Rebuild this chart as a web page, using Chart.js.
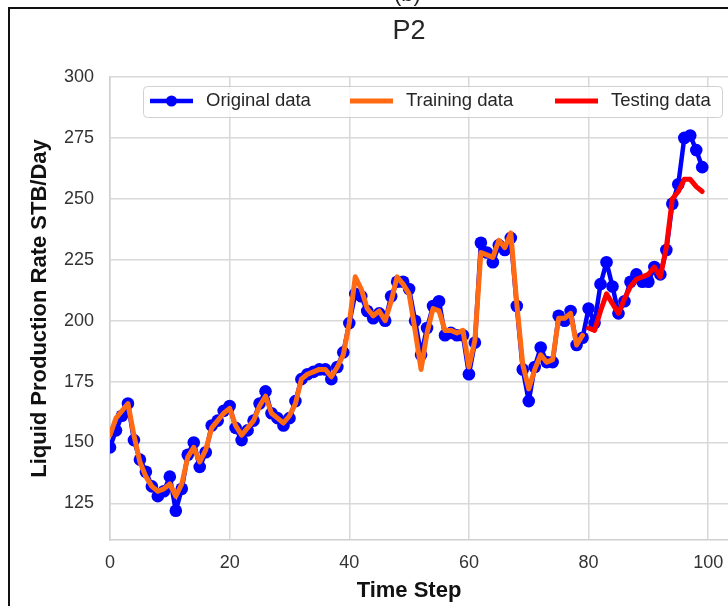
<!DOCTYPE html>
<html>
<head>
<meta charset="utf-8">
<script src="https://cdn.jsdelivr.net/npm/chart.js@4.4.1/dist/chart.umd.min.js"></script>
<style>
  html, body { margin: 0; padding: 0; background: #fff; overflow: hidden; }
  #wrap { position: relative; width: 728px; height: 606px; overflow: hidden; background: #fff; }
  #wrap canvas { position: absolute; left: 0; top: 0; }
  #frame { position: absolute; left: 8px; top: 7px; width: 800px; height: 700px;
           border-left: 2px solid #111; border-top: 2px solid #111; pointer-events: none; }
  #tag { position: absolute; left: 394px; top: -19px; font: 22px "Liberation Sans", Arial, sans-serif; color: #222; }
</style>
</head>
<body>
<div id="wrap">
  <canvas id="myChart" width="818" height="606"></canvas>
  <div id="frame"></div>
  <div id="tag">(b)</div>
</div>
<script>
// liquid rate per time step (STB/Day)
var original = [
  148, 155, 161, 166, 151, 143, 138, 132, 128, 130,
  136, 122, 131, 145, 150, 140, 146, 157, 159, 163,
  165, 156, 151, 155, 159, 166, 171, 162, 160, 157,
  160, 167, 176, 178, 179, 180, 180, 176, 181, 187,
  199, 211, 210, 204, 201, 203, 200, 210, 216, 216,
  213, 200, 186, 197, 206, 208, 194, 195, 194, 194,
  178, 191, 232, 228, 224, 231, 229, 234, 206, 180,
  167, 181, 189, 183, 183, 202, 200, 204, 190, 193,
  205, 199, 215, 224, 214, 203, 208, 216, 219, 216,
  216, 222, 219, 229, 248, 256, 275, 276, 270, 263
];
var training = [
  153, 160, 163, 166, 153, 142, 136, 132, 130, 131,
  133, 128, 133, 144, 148, 142, 147, 156, 159, 162,
  164, 157, 153, 156, 159, 165, 169, 162, 160, 158,
  161, 166, 176, 178, 179, 180, 180, 177, 181, 186,
  199, 218, 213, 205, 202, 204, 200, 208, 218, 215,
  211, 196, 180, 195, 205, 204, 196, 196, 195, 196,
  181, 192, 228, 227, 226, 233, 230, 236, 207, 182,
  172, 180, 186, 183, 184, 201, 201, 203, 190, 194
];
var testStart = 80;
var testing = [
  197, 196, 204, 211, 207, 203, 209, 214, 217, 218,
  219, 222, 218, 230, 250, 253, 258, 258, 255, 253
];
var xTicks = [0, 20, 40, 60, 80, 100];
var yTicks = [125, 150, 175, 200, 225, 250, 275, 300];

function toPoints(values, start) {
  return values.map(function (v, i) { return { x: start + i, y: v }; });
}

var fontFamily = "'Liberation Sans', Arial, sans-serif";
Chart.defaults.font.family = fontFamily;

// matplotlib-style legend box drawn inside the plot, over the lines
var legendBox = {
  id: 'legendBox',
  afterDraw: function (chart) {
    var ctx = chart.ctx;
    var itemX = [150, 350, 555];
    var y = 101;
    ctx.save();
    ctx.beginPath();
    ctx.roundRect(143.5, 86.5, 579, 31, 4);
    ctx.fillStyle = 'rgba(255,255,255,0.8)';
    ctx.fill();
    ctx.strokeStyle = '#d0d0d0';
    ctx.lineWidth = 1;
    ctx.stroke();
    chart.data.datasets.forEach(function (ds, i) {
      var x = itemX[i];
      ctx.beginPath();
      ctx.moveTo(x, y);
      ctx.lineTo(x + 43, y);
      ctx.strokeStyle = ds.borderColor;
      ctx.lineWidth = ds.borderWidth;
      ctx.lineCap = 'butt';
      ctx.stroke();
      if (ds.pointRadius > 0) {
        ctx.beginPath();
        ctx.arc(x + 21.5, y, 5.5, 0, Math.PI * 2);
        ctx.fillStyle = ds.borderColor;
        ctx.fill();
      }
      ctx.fillStyle = '#262626';
      ctx.font = '18.5px ' + fontFamily;
      ctx.textBaseline = 'middle';
      ctx.textAlign = 'left';
      ctx.fillText(ds.label, x + 56, y);
    });
    ctx.restore();
  }
};

var ctx = document.getElementById('myChart');
var myChart = new Chart(ctx, {
  type: 'line',
  data: {
    datasets: [{
      label: 'Original data',
      data: toPoints(original, 0),
      borderColor: '#0000ff',
      backgroundColor: '#0000ff',
      borderWidth: 4.5,
      pointRadius: 6.3,
      pointBorderWidth: 0,
      order: 3
    }, {
      label: 'Training data',
      data: toPoints(training, 0),
      borderColor: '#ff6a13',
      backgroundColor: '#ff6a13',
      borderWidth: 5,
      pointRadius: 0,
      order: 2
    }, {
      label: 'Testing data',
      data: toPoints(testing, testStart),
      borderColor: '#ff0000',
      backgroundColor: '#ff0000',
      borderWidth: 5,
      pointRadius: 0,
      order: 1
    }]
  },
  options: {
    responsive: false,
    animation: false,
    layout: { padding: 0 },
    elements: { line: { tension: 0, borderJoinStyle: 'round', borderCapStyle: 'round' } },
    scales: {
      x: {
        type: 'linear',
        min: 0,
        max: 117.3,
        afterBuildTicks: function (axis) {
          axis.ticks = xTicks.map(function (v) { return { value: v }; });
        },
        afterFit: function (axis) { axis.height = 37.6; },
        grid: { color: '#d8d8d8', lineWidth: 1.5, drawTicks: false },
        border: { color: '#d0d0d0', width: 1.5 },
        ticks: { color: '#333', font: { size: 18 }, padding: 12 }
      },
      y: {
        min: 110,
        max: 300,
        afterBuildTicks: function (axis) {
          axis.ticks = yTicks.map(function (v) { return { value: v }; });
        },
        afterFit: function (axis) { axis.width = 110; },
        grid: { color: '#d8d8d8', lineWidth: 1.5, drawTicks: false },
        border: { color: '#d0d0d0', width: 1.5 },
        ticks: { color: '#333', font: { size: 18 }, padding: 16 },
        title: {
          display: true,
          text: 'Liquid Production Rate STB/Day',
          color: '#111',
          font: { size: 22, weight: 'bold' },
          padding: { top: 27, bottom: 0 }
        }
      }
    },
    plugins: {
      legend: { display: false },
      tooltip: { enabled: false },
      title: {
        display: true,
        text: 'P2',
        color: '#262626',
        font: { size: 27, weight: 'normal' },
        padding: { top: 15, bottom: 29.6 }
      },
      subtitle: {
        display: true,
        position: 'bottom',
        text: 'Time Step',
        color: '#111',
        font: { size: 22, weight: 'bold' },
        padding: { top: 0, bottom: 2 }
      }
    }
  },
  plugins: [legendBox]
});
</script>
</body>
</html>
